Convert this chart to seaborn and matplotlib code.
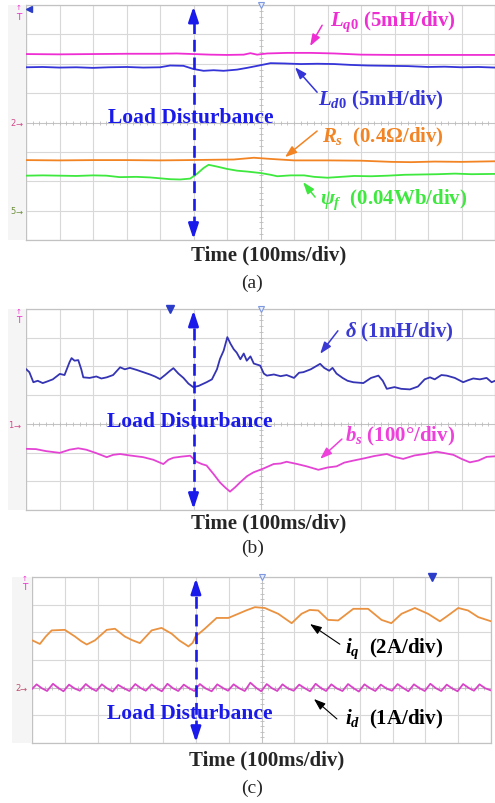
import numpy as np
import matplotlib
matplotlib.use("Agg")
import matplotlib.pyplot as plt
import seaborn as sns

# ---------------- scope traces (x in time divisions, y in screen divisions) ----------------
# (a) parameter estimates
lq0_t = [0.0, 1.0, 2.0, 3.0, 4.0, 4.5, 5.0, 5.5, 6.0, 6.5, 6.7, 6.9, 7.2, 7.8, 8.5, 9.2, 10.0, 11.0, 12.0, 13.0, 14.0]
lq0_v = [6.33, 6.32, 6.33, 6.34, 6.34, 6.35, 6.33, 6.31, 6.30, 6.31, 6.36, 6.31, 6.35, 6.37, 6.37, 6.35, 6.31, 6.30, 6.30, 6.30, 6.30]

ld0_t = [0.0, 0.5, 1.0, 1.5, 2.0, 2.5, 3.0, 3.5, 4.0, 4.3, 4.7, 5.0, 5.3, 5.6, 5.9, 6.3, 6.6, 7.0, 7.3, 7.7,
         8.2, 8.7, 9.2, 9.7, 10.2, 10.8, 11.4, 12.0, 12.5, 13.0, 13.5, 14.0]
ld0_v = [5.88, 5.89, 5.87, 5.88, 5.86, 5.88, 5.89, 5.87, 5.88, 5.94, 5.93, 5.82, 5.76, 5.78, 5.76, 5.80, 5.86, 5.95, 6.02, 6.01,
         5.99, 6.00, 5.99, 5.96, 5.94, 5.93, 5.92, 5.89, 5.90, 5.88, 5.89, 5.87]

rs_t = [0.0, 1.0, 2.0, 3.0, 4.0, 4.8, 5.5, 6.2, 6.8, 7.3, 8.0, 9.0, 10.0, 10.9, 11.5, 12.2, 13.0, 13.5, 14.0]
rs_v = [2.72, 2.71, 2.72, 2.72, 2.71, 2.72, 2.73, 2.74, 2.80, 2.76, 2.71, 2.71, 2.70, 2.66, 2.65, 2.67, 2.66, 2.67, 2.68]

psi_t = [0.0, 0.5, 1.0, 1.5, 2.0, 2.4, 2.8, 3.3, 3.7, 4.0, 4.3, 4.6, 4.9, 5.1, 5.3, 5.45, 5.7, 6.0, 6.3, 6.6,
         7.0, 7.3, 7.5, 7.9, 8.3, 8.6, 9.0, 9.4, 9.8, 10.3, 10.8, 11.3, 11.8, 12.3, 12.8, 13.3, 14.0]
psi_v = [2.19, 2.20, 2.19, 2.18, 2.20, 2.19, 2.14, 2.15, 2.13, 2.10, 2.07, 2.06, 2.09, 2.25, 2.45, 2.56, 2.50, 2.42, 2.36, 2.33,
         2.28, 2.22, 2.17, 2.20, 2.20, 2.15, 2.12, 2.15, 2.18, 2.17, 2.19, 2.22, 2.23, 2.24, 2.26, 2.24, 2.25]

# (b) delta and b_s
delta_t = [0.00, 0.10, 0.22, 0.35, 0.50, 0.62, 0.80, 1.01, 1.15, 1.30, 1.36, 1.45, 1.56, 1.65, 1.71, 1.90, 2.10, 2.25,
           2.41, 2.60, 2.81, 2.95, 3.10, 3.30, 3.50, 3.70, 3.85, 4.00, 4.15, 4.30, 4.40, 4.55, 4.70, 4.85, 4.99,
           5.15, 5.39, 5.55, 5.70, 5.79, 5.90, 6.01, 6.10, 6.20, 6.29, 6.40, 6.50, 6.59, 6.70, 6.80, 6.99, 7.10,
           7.19, 7.40, 7.60, 7.78, 8.00, 8.15, 8.28, 8.50, 8.78, 8.90, 9.05, 9.15, 9.27, 9.45, 9.60, 9.77, 10.07,
           10.30, 10.52, 10.65, 10.77, 11.00, 11.20, 11.46, 11.70, 11.90, 12.06, 12.20, 12.40, 12.56, 12.80,
           13.05, 13.20, 13.35, 13.55, 13.75, 13.90, 14.00]
delta_v = [4.91, 4.80, 4.45, 4.50, 4.42, 4.47, 4.55, 4.74, 4.70, 5.15, 5.29, 5.20, 5.22, 4.90, 4.62, 4.60, 4.65, 4.58,
           4.62, 4.70, 4.97, 4.90, 4.95, 4.88, 4.80, 4.72, 4.65, 4.56, 4.70, 4.85, 4.94, 4.75, 4.60, 4.40, 4.28,
           4.32, 4.45, 4.55, 4.90, 5.26, 5.55, 6.02, 5.80, 5.60, 5.48, 5.25, 5.45, 5.20, 5.35, 5.10, 5.03, 4.75,
           4.68, 4.72, 4.66, 4.70, 4.60, 4.78, 4.80, 4.90, 5.09, 4.95, 4.85, 4.95, 4.75, 4.60, 4.50, 4.45, 4.42,
           4.60, 4.68, 4.50, 4.22, 4.28, 4.22, 4.20, 4.30, 4.55, 4.62, 4.55, 4.70, 4.68, 4.60,
           4.45, 4.52, 4.58, 4.55, 4.60, 4.45, 4.50]

bs_t = [0.00, 0.30, 0.60, 1.01, 1.30, 1.56, 1.80, 2.10, 2.41, 2.60, 2.81, 3.10, 3.50, 3.80, 4.10, 4.25, 4.40, 4.65,
        4.90, 5.09, 5.25, 5.39, 5.60, 5.79, 5.95, 6.09, 6.25, 6.39, 6.60, 6.79, 7.10, 7.39, 7.60, 7.78, 8.10, 8.38,
        8.73, 9.00, 9.27, 9.50, 9.77, 10.10, 10.40, 10.77, 11.00, 11.26, 11.60, 11.90, 12.26, 12.50, 12.76, 13.00,
        13.25, 13.50, 13.75, 14.00]
bs_v = [2.13, 2.12, 2.05, 1.99, 2.10, 2.15, 2.10, 1.98, 1.84, 1.92, 1.95, 1.90, 1.84, 1.75, 1.60, 1.75, 1.82, 1.86,
        1.89, 1.68, 1.60, 1.55, 1.25, 0.96, 0.78, 0.64, 0.80, 0.96, 1.18, 1.31, 1.45, 1.60, 1.62, 1.68, 1.60, 1.52,
        1.40, 1.48, 1.52, 1.65, 1.72, 1.80, 1.88, 1.95, 1.85, 1.78, 1.90, 1.95, 2.03, 1.98, 1.92, 1.78,
        1.66, 1.72, 1.85, 1.87]

# (c) dq currents
iq_t = [0.01, 0.24, 0.42, 0.60, 1.00, 1.31, 1.50, 1.67, 1.92, 2.28, 2.53, 2.83, 3.05, 3.29, 3.65, 3.95, 4.26, 4.50,
        4.66, 4.77, 4.90, 4.99, 5.27, 5.63, 5.99, 6.29, 6.55, 6.80, 7.10, 7.51, 7.92, 8.22, 8.47, 8.73, 9.03, 9.34,
        9.80, 10.25, 10.66, 10.96, 11.27, 11.68, 12.08, 12.44, 12.69, 13.00, 13.30, 13.61, 14.00]
iq_v = [3.71, 3.58, 3.85, 4.07, 4.09, 3.85, 3.68, 3.56, 3.71, 4.09, 4.13, 3.85, 3.72, 3.61, 4.07, 4.16, 3.95, 3.70,
        3.58, 3.49, 3.62, 3.85, 4.13, 4.52, 4.52, 4.67, 4.80, 4.91, 4.88, 4.67, 4.33, 4.67, 4.81, 4.79, 4.45, 4.43,
        4.85, 4.85, 4.45, 4.33, 4.67, 4.88, 4.67, 4.40, 4.61, 4.88, 4.79, 4.55, 4.40]

id_t = [0.00, 0.14, 0.30, 0.46, 0.64, 0.80, 0.96, 1.13, 1.30, 1.46, 1.64, 1.80, 1.96, 2.13, 2.30, 2.46, 2.63, 2.80,
        2.97, 3.15, 3.31, 3.47, 3.65, 3.81, 3.96, 4.13, 4.30, 4.46, 4.63, 4.79, 4.95, 5.12, 5.30, 5.48, 5.65, 5.82,
        5.98, 6.15, 6.32, 6.49, 6.66, 6.83, 6.99, 7.16, 7.32, 7.48, 7.64, 7.81, 7.98, 8.15, 8.32, 8.48, 8.65, 8.81,
        8.97, 9.13, 9.30, 9.47, 9.64, 9.81, 9.97, 10.14, 10.31, 10.47, 10.64, 10.81, 10.98, 11.15, 11.32, 11.48,
        11.65, 11.82, 11.98, 12.15, 12.32, 12.48, 12.65, 12.82, 12.98, 13.15, 13.32, 13.48, 13.65, 13.82, 14.00]
id_v = [1.95, 2.12, 1.98, 1.88, 2.14, 1.99, 1.87, 2.11, 1.97, 1.89, 2.13, 1.98, 1.88, 2.12, 1.97, 1.86, 2.10, 1.98,
        1.88, 2.13, 1.99, 1.89, 2.12, 1.97, 1.87, 2.14, 1.98, 1.88, 2.11, 1.98, 1.88, 2.13, 1.97, 1.87, 2.12, 1.99,
        1.89, 2.12, 1.98, 1.88, 2.18, 2.00, 1.87, 2.13, 1.98, 1.88, 2.12, 1.97, 1.89, 2.11, 1.98, 1.87, 2.14, 1.99,
        1.88, 2.12, 1.97, 1.88, 2.13, 1.98, 1.86, 2.12, 1.98, 1.88, 2.11, 1.97, 1.89, 2.13, 1.99, 1.87,
        2.12, 1.98, 1.88, 2.14, 1.98, 1.88, 2.11, 1.97, 1.87, 2.13, 1.99, 1.89, 2.12, 1.98, 1.90]

DISTURBANCE_DIV = 5.0   # load step at 500 ms

# ---------------- style ----------------
sns.set_style("white")
plt.rcParams["font.family"] = ["Liberation Serif", "DejaVu Serif"]
plt.rcParams["mathtext.fontset"] = "custom"
plt.rcParams["mathtext.rm"] = "Liberation Serif:bold"
plt.rcParams["mathtext.it"] = "Liberation Serif:bold:italic"
plt.rcParams["mathtext.bf"] = "Liberation Serif:bold"

GRID = "#d8d8d8"
EDGE = "#c2c2c2"
CROSS = "#bcbcbc"
ARROW_BLUE = "#1a1aea"
MAGENTA = "#ee2ed2"
BLUE = "#3434d8"
ORANGE = "#f28424"
GREEN = "#3ee83e"

W, H = 495, 804
fig = plt.figure(figsize=(W / 100, H / 100), dpi=100)


def frame(left, top, right, bottom):
    return [left / W, 1 - bottom / H, (right - left) / W, (bottom - top) / H]


def ftext(x, y, s, **kw):
    fig.text(x / W, 1 - y / H, s, **kw)


def scope(rect, nrows, strip_left):
    # pale side strip where the channel markers live
    fig.patches.append(plt.Rectangle((strip_left / W, 1 - rect[3] / H), (rect[0] - strip_left) / W,
                                     (rect[3] - rect[1]) / H, transform=fig.transFigure,
                                     facecolor="#f5f5f5", edgecolor="none", zorder=0))
    ax = fig.add_axes(frame(*rect))
    ax.set_xlim(0, 14)
    ax.set_ylim(0, nrows)
    ax.set_xticks(range(15))
    ax.set_yticks(range(nrows + 1))
    ax.tick_params(length=0, labelbottom=False, labelleft=False)
    ax.grid(True, color=GRID, lw=0.8)
    ax.set_facecolor("white")
    for s in ax.spines.values():
        s.set_color(EDGE)
        s.set_linewidth(0.9)
    cy = nrows - 4
    ax.axhline(cy, color=CROSS, lw=0.5, zorder=1)
    ax.axvline(7, color=CROSS, lw=0.5, zorder=1)
    tx = np.arange(0, 14.01, 0.2)
    ax.plot(tx, np.full_like(tx, cy), ls="", marker="|", ms=2.5, mew=0.6, color=CROSS, zorder=1)
    ty = np.arange(0, nrows + 0.01, 0.2)
    ax.plot(np.full_like(ty, 7), ty, ls="", marker="_", ms=2.5, mew=0.6, color=CROSS, zorder=1)
    # trigger position marker
    ax.plot([7], [nrows], marker="v", ms=5, mfc="#e8eefc", mec="#7f98e0", mew=0.8, clip_on=False, zorder=5)
    return ax


def trace(ax, t, v, color, lw=1.3):
    sns.lineplot(x=t, y=v, ax=ax, color=color, lw=lw, estimator=None, sort=False, zorder=3)


def disturbance(ax, top):
    x = DISTURBANCE_DIV
    ax.plot([x, x], [0.4, top - 0.4], color=ARROW_BLUE, lw=1.9, dashes=(4.5, 2.2), zorder=6, clip_on=False)
    for y0, y1 in [(0.45, 0.03), (top - 0.45, top - 0.05)]:
        ax.annotate("", xy=(x, y1), xytext=(x, y0), annotation_clip=False,
                    arrowprops=dict(arrowstyle="-|>,head_length=0.9,head_width=0.3", color=ARROW_BLUE,
                                    lw=1.9, shrinkA=0, shrinkB=0), zorder=6)


def pointer(ax, start, end, color, lw=1.1):
    ax.annotate("", xy=end, xytext=start, annotation_clip=False,
                arrowprops=dict(arrowstyle="-|>,head_length=0.7,head_width=0.25", color=color,
                                lw=lw, shrinkA=0, shrinkB=0), zorder=7)


def label(ax, x, y, s, color, size=15):
    ax.text(x, y, s, color=color, fontsize=size, fontweight="bold", ha="left", va="center", zorder=8)


def channel_mark(x, y, s, color):
    ftext(x, y, s, color=color, fontsize=6, ha="left", va="center", family="DejaVu Sans")
    ftext(x + 5, y, "\u2192", color=color, fontsize=6, ha="left", va="center", family="DejaVu Sans")


def top_mark(x, y):
    ftext(x, y - 6, "\u2191", color=MAGENTA, fontsize=5, ha="center", va="center", family="DejaVu Sans")
    ftext(x, y + 3, "T", color=MAGENTA, fontsize=6.5, ha="center", va="center", family="DejaVu Sans")


def captions(ax, y_time, y_tag, tag, x_time=7.25, x_tag=6.75):
    ax.text(x_time, y_time, "Time (100ms/div)", fontsize=15, fontweight="bold", ha="center", va="center")
    ax.text(x_tag, y_tag, tag, fontsize=14, ha="center", va="center")


# ---------------- (a) ----------------
ax_a = scope((26, 6, 495, 241), 8, 8)
trace(ax_a, lq0_t, lq0_v, MAGENTA)
trace(ax_a, ld0_t, ld0_v, BLUE)
trace(ax_a, rs_t, rs_v, ORANGE)
trace(ax_a, psi_t, psi_v, GREEN)
disturbance(ax_a, 8)
ax_a.plot([0.08], [7.87], marker="<", ms=5, color="#2a3cc8", clip_on=False, zorder=5)
label(ax_a, 9.07, 7.48, r"$L_{q0}$ (5mH/div)", MAGENTA)
pointer(ax_a, (8.84, 7.31), (8.48, 6.60), MAGENTA)
label(ax_a, 8.72, 4.80, r"$L_{d0}$ (5mH/div)", BLUE)
pointer(ax_a, (8.69, 5.03), (8.03, 5.88), BLUE)
label(ax_a, 8.84, 3.54, r"$R_s$  (0.4Ω/div)", ORANGE)
pointer(ax_a, (8.69, 3.71), (7.73, 2.82), ORANGE)
label(ax_a, 8.78, 1.39, r"$\psi_f$  (0.04Wb/div)", GREEN)
pointer(ax_a, (8.63, 1.46), (8.27, 1.97), GREEN)
label(ax_a, 2.45, 4.18, "Load Disturbance", ARROW_BLUE, 15.5)
captions(ax_a, -0.51, -1.43, "(a)")
top_mark(19, 14)
channel_mark(10, 124, "2", "#d04a8a")
channel_mark(10, 212, "5", "#6f9040")

# ---------------- (b) ----------------
ax_b = scope((26, 310, 495, 511), 7, 8)
trace(ax_b, delta_t, delta_v, "#3434b4")
trace(ax_b, bs_t, bs_v, "#e444d4")
disturbance(ax_b, 7)
ax_b.plot([4.3], [7.0], marker="v", ms=6, color="#2a3cc8", clip_on=False, zorder=5)
label(ax_b, 9.52, 6.20, r"$\delta$ (1mH/div)", "#3a3ad2")
pointer(ax_b, (9.31, 6.24), (8.78, 5.44), "#3a3ad2")
label(ax_b, 9.52, 2.58, r"$b_s$ (100°/div)", "#ee40da")
pointer(ax_b, (9.43, 2.47), (8.78, 1.78), "#ee40da")
label(ax_b, 2.42, 3.10, "Load Disturbance", ARROW_BLUE, 15.5)
captions(ax_b, -0.42, -1.29, "(b)")
top_mark(19, 318)
channel_mark(8, 426, "1", "#d04a8a")

# ---------------- (c) ----------------
ax_c = scope((32, 578, 491, 744), 6, 12)
trace(ax_c, iq_t, iq_v, "#ea9240")
trace(ax_c, id_t, id_v, "#d844c8")
disturbance(ax_c, 6)
ax_c.plot([12.2], [6.0], marker="v", ms=6, color="#2a3cc8", clip_on=False, zorder=5)
label(ax_c, 9.54, 3.43, r"$i_q$  (2A/div)", "black")
pointer(ax_c, (9.39, 3.57), (8.48, 4.30), "black", 0.8)
label(ax_c, 9.54, 0.90, r"$i_d$  (1A/div)", "black")
pointer(ax_c, (9.30, 0.87), (8.60, 1.59), "black", 0.8)
label(ax_c, 2.29, 1.08, "Load Disturbance", ARROW_BLUE, 15.5)
captions(ax_c, -0.61, -1.59, "(c)", x_time=7.15, x_tag=6.7)
top_mark(25, 585)
channel_mark(15, 689, "2", "#c05070")

fig.savefig("out.png", dpi=100, facecolor="white")
